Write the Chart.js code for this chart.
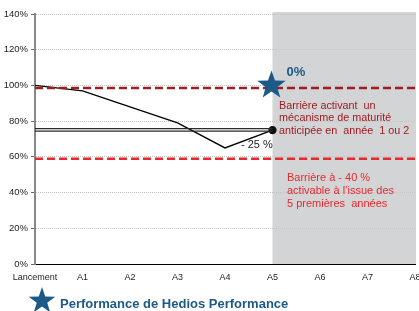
<!DOCTYPE html>
<html><head><meta charset="utf-8">
<script src="https://cdn.jsdelivr.net/npm/chart.js@4/dist/chart.umd.min.js"></script>
<style>html,body{margin:0;padding:0;background:#fff}#wrap{width:419px;height:311px;position:relative}</style>
</head><body><div id="wrap"><canvas id="c" width="419" height="311"></canvas></div>
<script>
const categories = ['Lancement','A1','A2','A3','A4','A5','A6','A7','A8'];
const performance = [100, 97, 88, 79, 65, 75, null, null, null];
const barrierEarly = [98.5, 98.5, 98.5, 98.5, 98.5, 98.5, 98.5, 98.5, 98.5];
const barrierCapital = [59, 59, 59, 59, 59, 59, 59, 59, 59];
const referenceUpper = [75.8, 75.8, 75.8, 75.8, 75.8, 75.8, null, null, null];
const referenceLower = [74.4, 74.4, 74.4, 74.4, 74.4, 74.4, null, null, null];
const yTicks = [0, 20, 40, 60, 80, 100, 120, 140];
const starIndex = 5, starValue = 100;
const starLabel = '0%';
const lossLabel = '- 25 %';
const earlyText = ['Barrière activant  un', 'mécanisme de maturité', 'anticipée en  année  1 ou 2'];
const capitalText = ['Barrière à - 40 %', 'activable à l\u2019issue des', '5 premières  années'];
const legendText = 'Performance de Hedios Performance';
const FONT = 'Arial, "Liberation Sans", sans-serif';
const BLUE = '#1d5a87', DARKRED = '#9d1d22', RED = '#e8282d';

function star(ctx, cx, cy, R, r) {
  ctx.beginPath();
  for (let i = 0; i < 10; i++) {
    const a = -Math.PI / 2 + i * Math.PI / 5;
    const rad = i % 2 === 0 ? R : r;
    const x = cx + rad * Math.cos(a), y = cy + rad * Math.sin(a);
    i === 0 ? ctx.moveTo(x, y) : ctx.lineTo(x, y);
  }
  ctx.closePath();
}

const shade = {
  id: 'shade',
  beforeDraw(chart) {
    const {ctx, chartArea, scales: {x}} = chart;
    ctx.save();
    ctx.fillStyle = '#d3d4d6';
    const x0 = x.getPixelForValue(starIndex), x1 = x.getPixelForValue(categories.length - 1);
    ctx.fillRect(x0, chartArea.top - 2, x1 - x0 + 1, chartArea.bottom - chartArea.top + 2);
    ctx.restore();
  },
  afterDraw(chart) {
    const {ctx, scales: {x, y}} = chart;
    ctx.save();
    const sx = x.getPixelForValue(starIndex) - 1, sy = y.getPixelForValue(starValue);
    ctx.fillStyle = BLUE;
    star(ctx, sx, sy, 15, 6);
    ctx.fill();
    ctx.font = 'bold 13px ' + FONT;
    ctx.textBaseline = 'middle';
    ctx.fillText(starLabel, sx + 15, sy - 13);
    ctx.fillStyle = '#222';
    ctx.font = '11px ' + FONT;
    ctx.textAlign = 'left';
    ctx.fillText(lossLabel, x.getPixelForValue(4) + 16, y.getPixelForValue(66.5));
    ctx.fillStyle = DARKRED;
    ctx.font = '10.8px ' + FONT;
    earlyText.forEach((t, i) => ctx.fillText(t, 279, 106 + i * 12.5));
    ctx.fillStyle = RED;
    ctx.font = '11px ' + FONT;
    capitalText.forEach((t, i) => ctx.fillText(t, 287, 178 + i * 12.8));
    ctx.fillStyle = BLUE;
    star(ctx, 42, 301, 14, 5.5);
    ctx.fill();
    ctx.font = 'bold 13px ' + FONT;
    ctx.fillText(legendText, 60, 304);
    ctx.restore();
  }
};

const dsBase = {pointRadius: 0, fill: false, tension: 0, spanGaps: false};
new Chart(document.getElementById('c'), {
  type: 'line',
  data: {
    labels: categories,
    datasets: [
      {...dsBase, data: referenceUpper, borderColor: '#2a2a2a', borderWidth: 1.2},
      {...dsBase, data: referenceLower, borderColor: '#2a2a2a', borderWidth: 1.2},
      {...dsBase, data: barrierEarly, borderColor: DARKRED, borderWidth: 2.5, borderDash: [8, 4]},
      {...dsBase, data: barrierCapital, borderColor: RED, borderWidth: 2.5, borderDash: [8, 4]},
      {...dsBase, data: performance, borderColor: '#000', borderWidth: 1.3,
        pointRadius: performance.map((v, i) => i === starIndex ? 3.5 : 0),
        pointBackgroundColor: '#111', pointBorderColor: '#111'}
    ]
  },
  options: {
    responsive: false, animation: false,
    layout: {padding: {top: 14, right: 4, left: 0, bottom: 0}},
    plugins: {legend: {display: false}, tooltip: {enabled: false}},
    scales: {
      x: {
        offset: false,
        grid: {display: false, drawTicks: true, tickLength: 4, color: '#000'},
        border: {display: true, color: '#000', width: 1},
        ticks: {color: '#222', font: {size: 9, family: FONT}, maxRotation: 0, autoSkip: false, padding: 4},
        afterFit(s) { s.height = 47; s.paddingRight = 0; s.paddingLeft = 0; }
      },
      y: {
        min: 0, max: 140,
        afterBuildTicks(s) { s.ticks = yTicks.map(v => ({value: v})); },
        grid: {color: '#c4c4c4', drawTicks: true, tickLength: 4, tickColor: '#666'},
        border: {display: true, color: '#888', width: 2, dash: [1, 1]},
        ticks: {color: '#222', font: {size: 9.5, family: FONT}, padding: 3, callback: v => v + '%'},
        afterFit(s) { s.width = 35; }
      }
    }
  },
  plugins: [shade]
});
</script></body></html>
